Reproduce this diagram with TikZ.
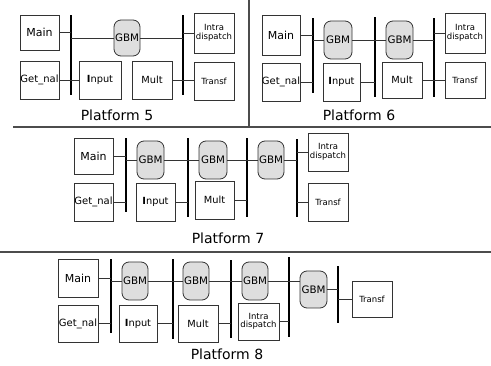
\documentclass[tikz,border=0pt]{standalone}
\usepackage{fontspec}
\setmainfont{DejaVu Sans}
\tikzset{
  box/.style={draw=black!80, line width=0.8pt, inner sep=0pt, align=center, font=\fontsize{10}{11}\selectfont},
  gbm/.style={draw=black!80, line width=0.8pt, fill=black!13, rounded corners=7pt, inner sep=0pt, font=\fontsize{10.3}{11}\selectfont},
  busline/.style={fill=black, inner sep=0pt, minimum width=2.3pt},
  wire/.style={draw=black!80, line width=0.9pt},
  sep/.style={draw=black!70, line width=1.1pt},
  plabel/.style={inner sep=0pt, font=\fontsize{14}{15}\selectfont},
  fmain/.style={font=\fontsize{11}{12}\selectfont},
  fsmall/.style={font=\fontsize{8.5}{9.5}\selectfont},
  fmid/.style={font=\fontsize{9.8}{10}\selectfont},
}
% box by corners: style, name, x1, y1, x2, y2, text
\newcommand{\bx}[7]{\node[#1, minimum width={(#5-#3)*1pt}, minimum height={(#6-#4)*1pt}] (#2) at ({(#3+#5)/2},{(#4+#6)/2}) {#7};}
\newcommand{\busnode}[4]{\node[busline, minimum height={(#4-#3)*1pt}] (#1) at (#2,{(#3+#4)/2}) {};}
\begin{document}
\begin{tikzpicture}[x=1pt,y=-1pt]
\useasboundingbox (0,0) rectangle (491,366);
% separators
\coordinate (s1a) at (13,127);
\coordinate (s1b) at (491,127);
\coordinate (s2a) at (249,0);
\coordinate (s2b) at (249,127);
\coordinate (s3a) at (0,252);
\coordinate (s3b) at (491,252);
\draw[sep] (s1a) -- (s1b);
\draw[sep] (s2a) -- (s2b);
\draw[sep] (s3a) -- (s3b);

% ---------- Platform 5 ----------
\bx{box,fmain}{m5}{20}{15}{59}{50}{Main}
\bx{box}{gn5}{20}{61}{59}{99}{Get\_nal}
\busnode{b51}{71}{15}{95}
\bx{gbm}{g5}{114}{20}{140}{56}{GBM}
\bx{box,fmid}{ip5}{79}{61}{121}{99}{{\bfseries I}nput}
\busnode{b52}{183}{15}{95}
\bx{box,fmid}{mu5}{132}{61}{172}{99}{Mult}
\bx{box,fsmall}{in5}{194}{13}{234}{53}{Intra\\[-1pt]dispatch}
\bx{box,fsmall}{tr5}{194}{62}{234}{100}{Transf}
\node[plabel] (p5) at (117,115) {Platform 5};
\draw[wire] (m5.east) -- (m5.east -| b51.center);
\draw[wire] (gn5.east) -- (gn5.east -| b51.center);
\draw[wire] (b51.center |- ip5.west) -- (ip5.west);
\draw[wire] (b51.center |- g5.west) -- (g5.west);
\draw[wire] (g5.east) -- (g5.east -| b52.center);
\draw[wire] (mu5.east) -- (mu5.east -| tr5.west);
\draw[wire] (b52.center |- in5.west) -- (in5.west);

% ---------- Platform 6 ----------
\bx{box,fmain}{m6}{262}{15}{300}{55}{Main}
\bx{box}{gn6}{262}{63}{300}{101}{Get\_nal}
\busnode{b61}{313}{18}{93}
\bx{gbm}{g61}{324}{21}{352}{59}{GBM}
\bx{box,fmid}{ip6}{323}{63}{360}{101}{{\bfseries I}nput}
\busnode{b62}{375}{17}{97}
\bx{gbm}{g62}{386}{21}{413}{59}{GBM}
\bx{box,fmid}{mu6}{382}{62}{422}{98}{Mult}
\busnode{b63}{434}{18}{97}
\bx{box,fsmall}{in6}{445}{13}{485}{53}{Intra\\[-1pt]dispatch}
\bx{box,fsmall}{tr6}{445}{62}{485}{98}{Transf}
\node[plabel] (p6) at (359,115) {Platform 6};
\draw[wire] (m6.east) -- (m6.east -| b61.center);
\draw[wire] (gn6.east) -- (gn6.east -| b61.center);
\draw[wire] (b61.center |- g61.west) -- (g61.west);
\draw[wire] (g61.east) -- (g62.west);
\draw[wire] (g62.east) -- (g62.east -| b63.center);
\draw[wire] (ip6.east) -- (ip6.east -| b62.center);
\draw[wire] (mu6.east) -- (mu6.east -| tr6.west);
\draw[wire] (b63.center |- in6.west) -- (in6.west);

% ---------- Platform 7 ----------
\bx{box,fmain}{m7}{74}{138}{113}{174}{Main}
\bx{box}{gn7}{74}{183}{113}{221}{Get\_nal}
\busnode{b71}{126}{138}{212}
\bx{gbm}{g71}{137}{141}{164}{179}{GBM}
\bx{box,fmid}{ip7}{136}{183}{175}{221}{{\bfseries I}nput}
\busnode{b72}{188}{138}{217}
\bx{gbm}{g72}{199}{141}{227}{179}{GBM}
\bx{box,fmid}{mu7}{195}{181}{234}{219}{Mult}
\busnode{b73}{247}{138}{217}
\bx{gbm}{g73}{258}{141}{284}{179}{GBM}
\busnode{b74}{297}{139}{217}
\bx{box,fsmall}{in7}{308}{133}{348}{171}{Intra\\[-1pt]dispatch}
\bx{box,fsmall}{tr7}{308}{183}{348}{221}{Transf}
\node[plabel] (p7) at (228,238) {Platform 7};
\draw[wire] (m7.east) -- (m7.east -| b71.center);
\draw[wire] (gn7.east) -- (gn7.east -| b71.center);
\draw[wire] (b71.center |- g71.west) -- (g71.west);
\draw[wire] (g71.east) -- (g72.west);
\draw[wire] (g72.east) -- (g73.west);
\draw[wire] (g73.east) -- (g73.east -| b74.center);
\draw[wire] (ip7.east) -- (ip7.east -| b72.center);
\draw[wire] (mu7.east) -- (mu7.east -| b73.center);
\draw[wire] (b74.center |- in7.west) -- (in7.west);
\draw[wire] (b74.center |- tr7.west) -- (tr7.west);

% ---------- Platform 8 ----------
\bx{box,fmain}{m8}{58}{259}{98}{297}{Main}
\bx{box}{gn8}{58}{305}{98}{342}{Get\_nal}
\busnode{b81}{111}{259}{333}
\bx{gbm}{g81}{122}{262}{148}{300}{GBM}
\bx{box,fmid}{ip8}{119}{305}{157}{342}{{\bfseries I}nput}
\busnode{b82}{173}{259}{339}
\bx{gbm}{g82}{183}{262}{209}{300}{GBM}
\bx{box,fmid}{mu8}{178}{305}{218}{342}{Mult}
\busnode{b83}{231}{260}{338}
\bx{gbm}{g83}{242}{262}{268}{300}{GBM}
\bx{box,fsmall}{in8}{238}{303}{279}{340}{Intra\\[-1pt]dispatch}
\busnode{b84}{289}{257}{337}
\bx{gbm}{g84}{300}{271}{327}{308}{GBM}
\busnode{b85}{338}{266}{323}
\bx{box,fsmall}{tr8}{352}{281}{392}{317}{Transf}
\node[plabel] (p8) at (227,354) {Platform 8};
\draw[wire] (m8.east) -- (m8.east -| b81.center);
\draw[wire] (gn8.east) -- (gn8.east -| b81.center);
\draw[wire] (b81.center |- g81.west) -- (g81.west);
\draw[wire] (g81.east) -- (g82.west);
\draw[wire] (g82.east) -- (g83.west);
\draw[wire] (g83.east) -- (g83.east -| g84.west);
\draw[wire] (ip8.east) -- (ip8.east -| b82.center);
\draw[wire] (mu8.east) -- (mu8.east -| b83.center);
\draw[wire] (in8.east) -- (in8.east -| b84.center);
\draw[wire] (g84.east) -- (g84.east -| b85.center);
\draw[wire] (b85.center |- tr8.west) -- (tr8.west);
\end{tikzpicture}
\end{document}
